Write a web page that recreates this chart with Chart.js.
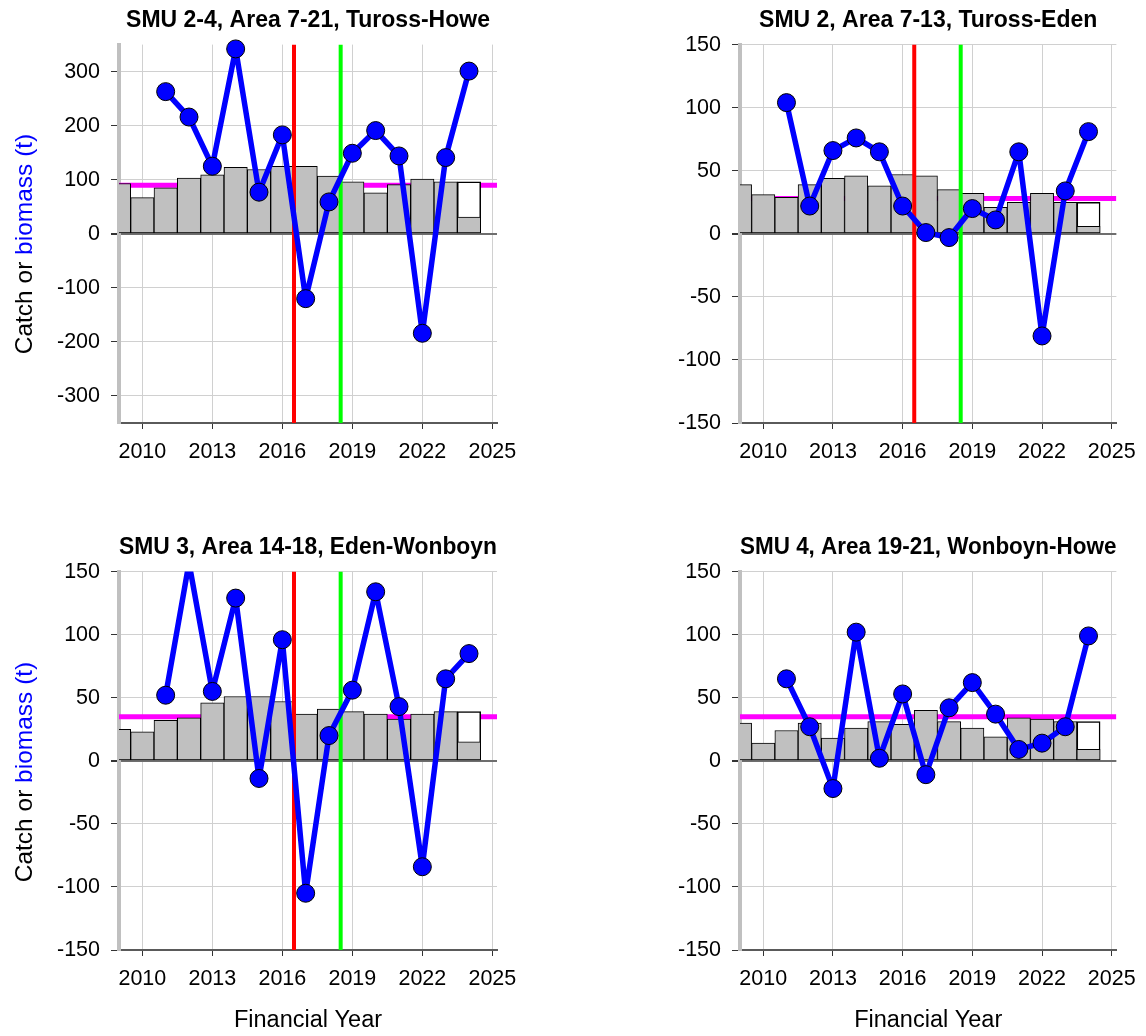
<!DOCTYPE html>
<html><head><meta charset="utf-8">
<script src="https://cdn.jsdelivr.net/npm/chart.js@4.4.1/dist/chart.umd.min.js"></script>
<style>
html,body{margin:0;padding:0;background:#fff;}
#wrap{position:relative;width:1146px;height:1036px;overflow:hidden;background:#fff;}
.cv{position:absolute;width:573px;height:518px;}
.cv canvas{display:block;}
.ylab{position:absolute;font-family:"Liberation Sans",Arial,sans-serif;font-size:24.5px;color:#000;white-space:nowrap;transform:translate(-50%,-50%) rotate(-90deg);}
.ylab span{color:#0000ff;}
</style></head><body>
<div id="wrap">
  <div class="cv" style="left:0;top:0"><canvas id="c0" width="573" height="518"></canvas></div>
  <div class="cv" style="left:573px;top:0"><canvas id="c1" width="573" height="518"></canvas></div>
  <div class="cv" style="left:0;top:518px"><canvas id="c2" width="573" height="518"></canvas></div>
  <div class="cv" style="left:573px;top:518px"><canvas id="c3" width="573" height="518"></canvas></div>
  <div class="ylab" style="left:24px;top:244px">Catch or <span>biomass (t)</span></div>
  <div class="ylab" style="left:24px;top:772px">Catch or <span>biomass (t)</span></div>
</div>
<script>
// ---------- data ----------
const barYears   = [2009,2010,2011,2012,2013,2014,2015,2016,2017,2018,2019,2020,2021,2022,2023,2024];
const pointYears = [2011,2012,2013,2014,2015,2016,2017,2018,2019,2020,2021,2022,2023,2024];
const xTickYears = [2010,2013,2016,2019,2022,2025];
const yTicksWide = [-300,-200,-100,0,100,200,300];
const yTicksNarrow = [-150,-100,-50,0,50,100,150];
const yRangeWide = [-350,350];
const yRangeNarrow = [-150,150];
const xRange = [2009,2025.2];

const titles = ["SMU 2-4, Area 7-21, Tuross-Howe","SMU 2, Area 7-13, Tuross-Eden","SMU 3, Area 14-18, Eden-Wonboyn","SMU 4, Area 19-21, Wonboyn-Howe"];

const catchTH = [93, 67, 85, 103, 109, 123, 119, 125, 125, 107, 96, 76, 91, 101, 96, 31];
const catchTE = [39, 31, 29, 39, 44, 46, 38, 47, 46, 35, 32, 21, 25, 32, 25, 6];
const catchEW = [25, 23, 32, 34, 46, 51, 51, 47, 37, 41, 39, 37, 33, 37, 39, 15];
const catchWH = [30, 14, 24, 30, 18, 26, 31, 29, 40, 31, 26, 19, 34, 33, 31, 9];

const outlineYear = [2024];
const outlineTH = [96];
const outlineTE = [25];
const outlineEW = [39];
const outlineWH = [31];

const biomassTH = [263, 216, 125, 342, 77, 183, -120, 59, 149, 191, 144, -184, 141, 301];
const biomassTE = [104, 22, 66, 76, 65, 22, 1, -3, 20, 11, 65, -81, 34, 81];
const biomassEW = [52, 157, 55, 129, -14, 96, -105, 20, 56, 134, 43, -84, 65, 85];
const biomassWH = [65, 27, -22, 102, 2, 53, -11, 42, 62, 37, 9, 14, 27, 99];

const refTH = [90];
const refTE = [28];
const refEW = [35];
const refWH = [35];

const eventYears = [2016.5, 2018.5];
const eventColors = ['#ff0000', '#00ff00'];
const noEvents = [];

// ---------- drawing ----------
Chart.defaults.font.family = '"Liberation Sans", Arial, sans-serif';
Chart.defaults.color = '#000';

const refLines = {
  id: 'refLines',
  beforeDatasetsDraw(chart, args, opts) {
    const {ctx, chartArea: a, scales: {y}} = chart;
    ctx.save();
    ctx.beginPath(); ctx.rect(a.left, a.top, a.right - a.left, a.bottom - a.top); ctx.clip();
    opts.levels.forEach(v => {
      const py = y.getPixelForValue(v);
      ctx.strokeStyle = '#ff00ff'; ctx.lineWidth = 5;
      ctx.beginPath(); ctx.moveTo(a.left, py); ctx.lineTo(a.right, py); ctx.stroke();
    });
    ctx.restore();
  },
  beforeDatasetDraw(chart, args, opts) {
    if (args.index !== 0) return;
    const {ctx, chartArea: a, scales: {x}} = chart;
    ctx.save();
    ctx.beginPath(); ctx.rect(a.left, a.top, a.right - a.left, a.bottom - a.top); ctx.clip();
    opts.events.forEach((ev, i) => {
      const px = x.getPixelForValue(ev);
      ctx.strokeStyle = eventColors[i]; ctx.lineWidth = 4;
      ctx.beginPath(); ctx.moveTo(px, a.top); ctx.lineTo(px, a.bottom); ctx.stroke();
    });
    ctx.restore();
  }
};

function makeChart(id, cfg) {
  const [yMin, yMax] = cfg.yRange;
  const overflow = cfg.biomass.some(v => v > yMax || v < yMin);
  const inRange = c => !(c.raw.y > yMax || c.raw.y < yMin);
  new Chart(document.getElementById(id), {
    type: 'line',
    data: {
      datasets: [
        {
          type: 'line',
          data: pointYears.map((yr, i) => ({x: yr, y: cfg.biomass[i]})),
          borderColor: '#0000ff', borderWidth: 5.5, tension: 0,
          borderJoinStyle: 'round', borderCapStyle: 'round',
          pointRadius: c => inRange(c) ? 9 : 0,
          pointHoverRadius: c => inRange(c) ? 9 : 0,
          pointBackgroundColor: '#0000ff', pointBorderColor: '#000', pointBorderWidth: 1,
          clip: overflow ? 0 : 14
        },
        {
          type: 'bar',
          data: barYears.map((yr, i) => ({x: yr, y: cfg.catchVals[i]})),
          backgroundColor: '#c0c0c0', borderColor: '#000', borderWidth: 1,
          borderSkipped: false, grouped: false, barPercentage: 1, categoryPercentage: 1, clip: 0
        },
        {
          type: 'bar',
          data: outlineYear.map((yr, i) => ({x: yr, y: cfg.outline[i]})),
          backgroundColor: '#ffffff', borderColor: '#000', borderWidth: 1.5,
          borderSkipped: false, grouped: false, barPercentage: 1, categoryPercentage: 1, clip: 0
        }
      ]
    },
    options: {
      responsive: false, animation: false, devicePixelRatio: 1,
      events: [],
      layout: {padding: {left: 0, right: cfg.padRight, top: 0, bottom: 0}},
      plugins: {
        legend: {display: false}, tooltip: {enabled: false},
        title: {display: true, text: cfg.title, fullSize: false, color: '#000',
                font: {size: 23, weight: 'bold', lineHeight: 1.1}, padding: {top: cfg.titleTop, bottom: 11.7}},
        refLines: {levels: cfg.ref, events: cfg.events}
      },
      scales: {
        x: {
          type: 'linear', min: xRange[0], max: xRange[1], offset: false,
          afterBuildTicks: s => { s.ticks = xTickYears.map(v => ({value: v})); },
          afterFit: s => { s.height = cfg.xAxisH; },
          grid: {color: '#d0d0d0', lineWidth: 1, tickColor: '#333', tickLength: 6, offset: false},
          border: {color: '#5a5a5a', width: 2},
          ticks: {font: {size: 21.5}, color: '#000', padding: 10, maxRotation: 0, autoSkip: false, callback: v => String(v)},
          title: {display: cfg.showXTitle, text: 'Financial Year', color: '#000', font: {size: 23.5}, padding: {top: 0, bottom: 1}}
        },
        y: {
          min: yMin, max: yMax,
          afterBuildTicks: s => { s.ticks = cfg.yTicks.map(v => ({value: v})); },
          afterFit: s => { s.width = cfg.yAxisW; },
          grid: {
            color: c => (c.tick && c.tick.value === 0) ? '#6e6e6e' : '#d0d0d0',
            lineWidth: c => (c.tick && c.tick.value === 0) ? 2 : 1,
            tickColor: '#333', tickLength: 8
          },
          border: {color: '#c0c0c0', width: 4},
          ticks: {font: {size: 21.5}, color: '#000', padding: 11, callback: v => String(v)}
        }
      }
    },
    plugins: [refLines]
  });
}

makeChart('c0', {title: titles[0], catchVals: catchTH, outline: outlineTH, biomass: biomassTH, ref: refTH, events: eventYears,
  yRange: yRangeWide, yTicks: yTicksWide, padRight: 76, yAxisW: 119, titleTop: 7.6, xAxisH: 95, showXTitle: false});
makeChart('c1', {title: titles[1], catchVals: catchTE, outline: outlineTE, biomass: biomassTE, ref: refTE, events: eventYears,
  yRange: yRangeNarrow, yTicks: yTicksNarrow, padRight: 29, yAxisW: 167, titleTop: 7.6, xAxisH: 95, showXTitle: false});
makeChart('c2', {title: titles[2], catchVals: catchEW, outline: outlineEW, biomass: biomassEW, ref: refEW, events: eventYears,
  yRange: yRangeNarrow, yTicks: yTicksNarrow, padRight: 76, yAxisW: 119, titleTop: 16.6, xAxisH: 86, showXTitle: true});
makeChart('c3', {title: titles[3], catchVals: catchWH, outline: outlineWH, biomass: biomassWH, ref: refWH, events: noEvents,
  yRange: yRangeNarrow, yTicks: yTicksNarrow, padRight: 29, yAxisW: 167, titleTop: 16.6, xAxisH: 86, showXTitle: true});
</script>
</body></html>
